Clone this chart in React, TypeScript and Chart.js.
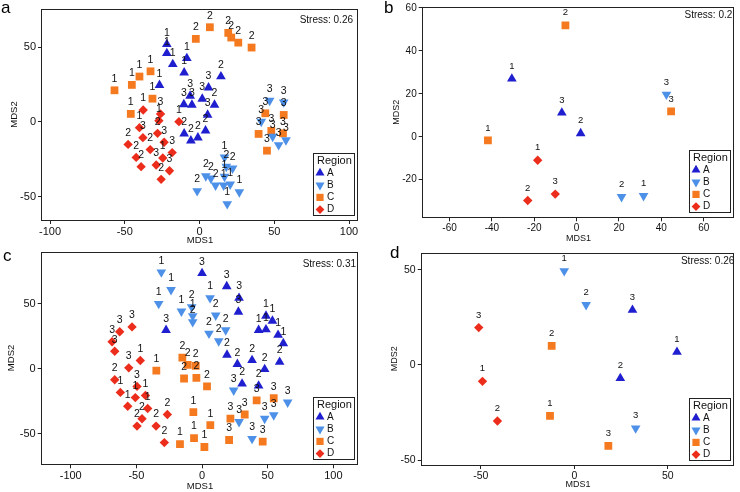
import React, { useEffect, useRef } from 'react';
import { Chart, registerables } from 'chart.js';

Chart.register(...registerables);

// ---------------- data ----------------
const REGIONS = ['A', 'B', 'C', 'D'];
const LEGEND_TITLE = 'Region';
const X_TITLE = 'MDS1';
const Y_TITLE = 'MDS2';

// panel a
const aStress = 'Stress: 0.26';
const aXTicks = [-100, -50, 0, 50, 100];
const aYTicks = [-50, 0, 50];
const aAx = [-21.9, -21.9, -17.9, -8.5, -10.3, -26.8, 14.3, 6.0, 1.8, 10.0, -6.3, -10.5, -5.1, 5.4, -10.3, -5.8, -1.1, 4.0];
const aAy = [52.0, 46.0, 38.6, 42.6, 33.0, 24.6, 30.4, 23.0, 15.4, 11.4, 17.4, 11.8, 11.4, 4.7, -7.8, -12.5, -10.5, -5.8];
const aAn = [1, 1, 1, 1, 1, 1, 2, 3, 3, 2, 3, 3, 3, 3, 2, 2, 2, 2];
const aBx = [46.9, 56.3, 41.3, 48.9, 52.9, 57.8, 16.7, 17.9, 22.1, 4.2, 7.6, 10.7, 16.7, 16.1, 20.5, 26.6, -1.6, 18.5];
const aBy = [14.3, 13.2, 0.2, -9.8, -15.4, -12.1, -23.7, -29.9, -31.0, -36.2, -37.7, -42.4, -36.6, -42.4, -41.7, -46.9, -46.2, -54.9];
const aBn = [3, 3, 3, 3, 3, 3, 1, 2, 2, 2, 2, 2, 1, 1, 1, 1, 2, 1];
const aCx = [-56.9, -45.3, -40.2, -32.8, -31.5, -46.0, -2.5, 6.9, 19.2, 21.2, 25.9, 34.8, 44.0, 56.3, 39.5, 48.0, 55.8, 45.1];
const aCy = [21.2, 24.8, 30.4, 33.9, 15.6, 5.4, 55.6, 63.4, 59.6, 56.5, 53.1, 49.8, 5.8, 4.7, -8.0, -6.0, -7.6, -19.2];
const aCn = [1, 1, 1, 1, 1, 1, 2, 2, 2, 2, 2, 2, 3, 3, 3, 3, 3, 3];
const aDx = [-37.7, -26.1, -27.2, -40.2, -28.1, -37.9, -47.8, -23.7, -33.0, -18.3, -42.4, -24.6, -29.0, -39.1, -20.1, -25.7, -13.8];
const aDy = [8.0, 5.4, 0.9, -3.8, -7.6, -10.5, -15.0, -13.6, -18.5, -20.5, -23.7, -24.1, -28.8, -29.9, -32.6, -38.4, 0.2];
const aDn = [1, 3, 1, 1, 2, 3, 2, 3, 2, 3, 2, 1, 3, 2, 3, 2, 1];

// panel b
const bStress = 'Stress: 0.2';
const bXTicks = [-60, -40, -20, 0, 20, 40, 60];
const bYTicks = [-20, 0, 20, 40, 60];
const bAx = [-30.6, -7.0, 1.9];
const bAy = [27.0, 11.2, 1.6];
const bAn = [1, 3, 2];
const bBx = [42.4, 21.2, 31.6];
const bBy = [19.7, -28.0, -27.5];
const bBn = [3, 2, 1];
const bCx = [-5.3, -41.9, 44.6];
const bCy = [51.9, -1.7, 11.8];
const bCn = [2, 1, 3];
const bDx = [-18.4, -23.1, -10.1];
const bDy = [-10.9, -29.7, -26.7];
const bDn = [1, 2, 3];

// panel c
const cStress = 'Stress: 0.31';
const cXTicks = [-100, -50, 0, 50, 100];
const cYTicks = [-50, 0, 50];
const cAx = [0, 18.8, 28.2, 27.7, -27.4, 48.7, 53.6, 43.1, 48.7, 57.9, 61.9, 19.0, 26.9, 38.1, 47.7, 59.1, 30.5, 43.1];
const cAy = [73.5, 63.4, 54.5, 43.8, 29.8, 40.7, 36.9, 29.8, 30.3, 26.0, 19.6, 10.7, 3.6, 6.6, -0.3, 5.3, -11.5, -13.0];
const cAn = [3, 3, 3, 3, 3, 1, 1, 1, 1, 1, 1, 2, 2, 2, 2, 2, 2, 2];
const cBx = [-31.0, -23.6, -33.0, -15.7, 6.1, -7.1, -7.1, -7.9, 10.4, 18.0, 5.3, 12.7, 24.1, 28.2, 47.7, 54.6, 65.2, 38.1];
const cBy = [74.3, 60.8, 50.1, 44.3, 54.5, 40.7, 36.1, 47.6, 41.2, 29.8, 27.2, 21.4, -16.5, -40.7, -38.2, -35.6, -25.7, -53.7];
const cBn = [1, 1, 1, 1, 1, 1, 2, 2, 2, 2, 2, 2, 3, 3, 3, 3, 3, 3];
const cCx = [-34.8, -15.0, -10.9, -4.8, -13.7, -4.3, 3.8, -6.6, 6.3, -6.1, -16.8, 1.8, 21.6, 32.5, 41.6, 54.6, 20.6, 46.2];
const cCy = [-1.3, 8.7, 3.1, 2.3, -7.4, -6.9, -13.5, -33.3, -43.3, -53.2, -57.8, -60.1, -38.2, -35.1, -24.2, -22.6, -54.7, -56.0];
const cCn = [1, 2, 2, 2, 2, 2, 2, 1, 1, 1, 1, 1, 3, 3, 3, 3, 3, 3];
const cDx = [-53.3, -62.7, -68.5, -66.5, -47.0, -55.8, -66.5, -49.5, -62.2, -50.8, -43.1, -56.6, -41.4, -45.7, -49.5, -35.0, -26.4, -28.7];
const cDy = [32.3, 28.5, 20.9, 13.5, 6.4, 0.8, -8.4, -13.5, -18.1, -22.1, -20.4, -28.8, -30.5, -38.4, -44.0, -44.0, -35.1, -56.7];
const cDn = [3, 3, 3, 3, 1, 3, 2, 3, 1, 1, 1, 1, 1, 2, 2, 2, 2, 2];

// panel d
const dStress = 'Stress: 0.26';
const dXTicks = [-50, 0, 50];
const dYTicks = [-50, 0, 50];
const dAx = [31.1, 54.9, 24.6];
const dAy = [28.8, 6.8, -7.0];
const dAn = [3, 1, 2];
const dBx = [-5.4, 6.3, 32.8];
const dBy = [49.3, 31.5, -33.2];
const dBn = [1, 2, 3];
const dCx = [-12.1, -13.0, 18.2];
const dCy = [10.0, -26.7, -42.5];
const dCn = [2, 1, 3];
const dDx = [-51.1, -49.1, -41.1];
const dDy = [19.6, -8.6, -29.4];
const dDn = [3, 1, 2];

// ---------------- styles / layout ----------------
const FONT = '"Liberation Sans", Arial, Helvetica, sans-serif';
const COLORS = ['#1f1fcf', '#4d90e8', '#f5791f', '#ec2d1b'];
const STYLES = ['triangle', 'triangle', 'rect', 'rectRot'];
const ROTS = [0, 180, 0, 0];
const RADII = [5.6, 5.6, 5.5, 4.7];
const INK = '#111';
const AXIS = '#222';

type Panel = {
  letter: string; left: number; top: number; w: number; h: number;
  area: number[]; xMin: number; xMax: number; yMin: number; yMax: number;
  xTicks: number[]; yTicks: number[]; stress: string;
  xs: number[][]; ys: number[][]; ns: number[][];
  tickFont: number; titleFont: number; numFont: number; numOff: number;
  yTitleX: number; xTitleY: number; stressX: number; stressY: number;
  letterX: number; letterY: number;
};

const PANELS: Panel[] = [
  {
    letter: 'a', left: 0, top: 0, w: 370, h: 246, area: [42, 9, 358, 220],
    xMin: -105.4, xMax: 106, yMin: -65.6, yMax: 75.6, xTicks: aXTicks, yTicks: aYTicks, stress: aStress,
    xs: [aAx, aBx, aCx, aDx], ys: [aAy, aBy, aCy, aDy], ns: [aAn, aBn, aCn, aDn],
    tickFont: 11, titleFont: 9.5, numFont: 10.5, numOff: 11.5, yTitleX: 14, xTitleY: 240.7,
    stressX: 353, stressY: 20.7, letterX: 1, letterY: 13.3,
  },
  {
    letter: 'b', left: 370, top: 0, w: 370, h: 246, area: [52.7, 7.3, 367.7, 217.3],
    xMin: -72.7, xMax: 74.5, yMin: -37.5, yMax: 60.3, xTicks: bXTicks, yTicks: bYTicks, stress: bStress,
    xs: [bAx, bBx, bCx, bDx], ys: [bAy, bBy, bCy, bDy], ns: [bAn, bBn, bCn, bDn],
    tickFont: 10, titleFont: 9, numFont: 9.5, numOff: 12.5, yTitleX: 26.7, xTitleY: 239,
    stressX: 362.3, stressY: 15.7, letterX: 14, letterY: 13.3,
  },
  {
    letter: 'c', left: 0, top: 246, w: 370, h: 246, area: [41.7, 4, 358.3, 218.3],
    xMin: -122.1, xMax: 119.0, yMin: -73.4, yMax: 90.2, xTicks: cXTicks, yTicks: cYTicks, stress: cStress,
    xs: [cAx, cBx, cCx, cDx], ys: [cAy, cBy, cCy, cDy], ns: [cAn, cBn, cCn, cDn],
    tickFont: 11, titleFont: 9.5, numFont: 10.5, numOff: 11.5, yTitleX: 11.7, xTitleY: 240.7,
    stressX: 356, stressY: 18.3, letterX: 3, letterY: 15,
  },
  {
    letter: 'd', left: 370, top: 246, w: 370, h: 246, area: [51.7, 6.7, 369.3, 219],
    xMin: -81.6, xMax: 85.6, yMin: -52.5, yMax: 58.9, xTicks: dXTicks, yTicks: dYTicks, stress: dStress,
    xs: [dAx, dBx, dCx, dDx], ys: [dAy, dBy, dCy, dDy], ns: [dAn, dBn, dCn, dDn],
    tickFont: 10.5, titleFont: 9, numFont: 9.5, numOff: 12.5, yTitleX: 25, xTitleY: 238.3,
    stressX: 364.3, stressY: 15.7, letterX: 20, letterY: 11.7,
  },
];

function drawMarker(ctx: CanvasRenderingContext2D, i: number, x: number, y: number) {
  ctx.fillStyle = COLORS[i];
  ctx.beginPath();
  if (i === 0) {
    const r = 5.2;
    ctx.moveTo(x, y - r);
    ctx.lineTo(x + r * 0.866, y + r * 0.5);
    ctx.lineTo(x - r * 0.866, y + r * 0.5);
  } else if (i === 1) {
    const r = 5.2;
    ctx.moveTo(x, y + r);
    ctx.lineTo(x + r * 0.866, y - r * 0.5);
    ctx.lineTo(x - r * 0.866, y - r * 0.5);
  } else if (i === 2) {
    ctx.rect(x - 3.6, y - 3.6, 7.2, 7.2);
  } else {
    const r = 4.4;
    ctx.moveTo(x, y - r);
    ctx.lineTo(x + r, y);
    ctx.lineTo(x, y + r);
    ctx.lineTo(x - r, y);
  }
  ctx.closePath();
  ctx.fill();
}

function decor(p: Panel) {
  return {
    id: 'decor_' + p.letter,
    afterDatasetsDraw(chart: any) {
      const ctx: CanvasRenderingContext2D = chart.ctx;
      const ca = chart.chartArea;
      ctx.save();
      // frame
      ctx.strokeStyle = AXIS;
      ctx.lineWidth = 1;
      const fl = Math.round(ca.left) - 0.5;
      const ft = Math.round(ca.top) + 0.5;
      const fr = Math.round(ca.right) - 0.5;
      const fb = Math.round(ca.bottom) + 0.5;
      ctx.strokeRect(fl, ft, fr - fl, fb - ft);
      // point numbers
      ctx.fillStyle = INK;
      ctx.font = `${p.numFont}px ${FONT}`;
      ctx.textAlign = 'center';
      ctx.textBaseline = 'middle';
      chart.data.datasets.forEach((ds: any, i: number) => {
        const meta = chart.getDatasetMeta(i);
        meta.data.forEach((el: any, j: number) => {
          ctx.fillText(String(ds.nums[j]), el.x, el.y - p.numOff);
        });
      });
      // stress
      ctx.textAlign = 'right';
      ctx.font = `10px ${FONT}`;
      ctx.fillText(p.stress, p.stressX, p.stressY);
      // legend
      const bw = 41, bh = 62;
      const bx = Math.round(ca.right - 4.5 - bw);
      const by = Math.round(ca.bottom - 5 - bh);
      ctx.fillStyle = '#fff';
      ctx.fillRect(bx, by, bw, bh);
      ctx.strokeStyle = AXIS;
      ctx.strokeRect(bx + 0.5, by + 0.5, bw, bh);
      ctx.fillStyle = INK;
      ctx.textAlign = 'left';
      ctx.font = `11px ${FONT}`;
      ctx.fillText(LEGEND_TITLE, bx + 4, by + 7.5);
      REGIONS.forEach((reg, i) => {
        const cy = by + 20 + i * 12.2;
        drawMarker(ctx, i, bx + 7, cy);
        ctx.fillStyle = INK;
        ctx.font = `10px ${FONT}`;
        ctx.fillText(reg, bx + 14, cy);
      });
      // panel letter
      ctx.textBaseline = 'alphabetic';
      ctx.font = `17px ${FONT}`;
      ctx.fillStyle = '#000';
      ctx.fillText(p.letter, p.letterX, p.letterY);
      ctx.restore();
    },
  };
}

function buildConfig(p: Panel): any {
  const [l, t, r, b] = p.area;
  const lh = p.titleFont;
  const zeroPad = (s: any) => { s.paddingLeft = 0; s.paddingRight = 0; s.paddingTop = 0; s.paddingBottom = 0; };
  return {
    type: 'scatter',
    data: {
      datasets: REGIONS.map((reg, i) => ({
        label: reg,
        data: p.xs[i].map((x, j) => ({ x, y: p.ys[i][j] })),
        nums: p.ns[i],
        pointStyle: STYLES[i],
        rotation: ROTS[i],
        pointRadius: RADII[i],
        pointHoverRadius: RADII[i],
        backgroundColor: COLORS[i],
        borderColor: COLORS[i],
        borderWidth: 0,
        showLine: false,
      })),
    },
    options: {
      animation: false,
      responsive: false,
      events: [],
      layout: { padding: { left: 0, top: t, right: p.w - r, bottom: 0 } },
      plugins: { legend: { display: false }, tooltip: { enabled: false } },
      scales: {
        x: {
          type: 'linear', position: 'bottom', min: p.xMin, max: p.xMax,
          afterBuildTicks: (s: any) => { s.ticks = p.xTicks.map((v) => ({ value: v })); },
          afterFit: (s: any) => { s.height = p.h - b; zeroPad(s); },
          ticks: { font: { family: FONT, size: p.tickFont }, color: INK, padding: 1, maxRotation: 0, autoSkip: false },
          grid: { drawOnChartArea: false, drawTicks: true, tickLength: 4, color: AXIS },
          border: { display: false },
          title: {
            display: true, text: X_TITLE, color: INK,
            font: { family: FONT, size: p.titleFont, lineHeight: 1 },
            padding: { top: 0, bottom: p.h - p.xTitleY - lh / 2 },
          },
        },
        y: {
          type: 'linear', position: 'left', min: p.yMin, max: p.yMax,
          afterBuildTicks: (s: any) => { s.ticks = p.yTicks.map((v) => ({ value: v })); },
          afterFit: (s: any) => { s.width = l; zeroPad(s); },
          ticks: { font: { family: FONT, size: p.tickFont }, color: INK, padding: 2, autoSkip: false },
          grid: { drawOnChartArea: false, drawTicks: true, tickLength: 4, color: AXIS },
          border: { display: false },
          title: {
            display: true, text: Y_TITLE, color: INK,
            font: { family: FONT, size: p.titleFont, lineHeight: 1 },
            padding: { top: p.yTitleX - lh / 2, bottom: 0 },
          },
        },
      },
    },
    plugins: [decor(p)],
  };
}

function ChartPanel({ p }: { p: Panel }) {
  const ref = useRef<HTMLCanvasElement>(null);
  useEffect(() => {
    const chart = new Chart(ref.current as HTMLCanvasElement, buildConfig(p));
    return () => chart.destroy();
  }, [p]);
  return (
    <canvas
      ref={ref}
      width={p.w}
      height={p.h}
      style={{ position: 'absolute', left: p.left, top: p.top, width: p.w, height: p.h }}
    />
  );
}

export default function App() {
  return (
    <div style={{ position: 'fixed', left: 0, top: 0, width: 740, height: 492, background: '#fff', overflow: 'hidden' }}>
      {PANELS.map((p) => <ChartPanel key={p.letter} p={p} />)}
    </div>
  );
}
